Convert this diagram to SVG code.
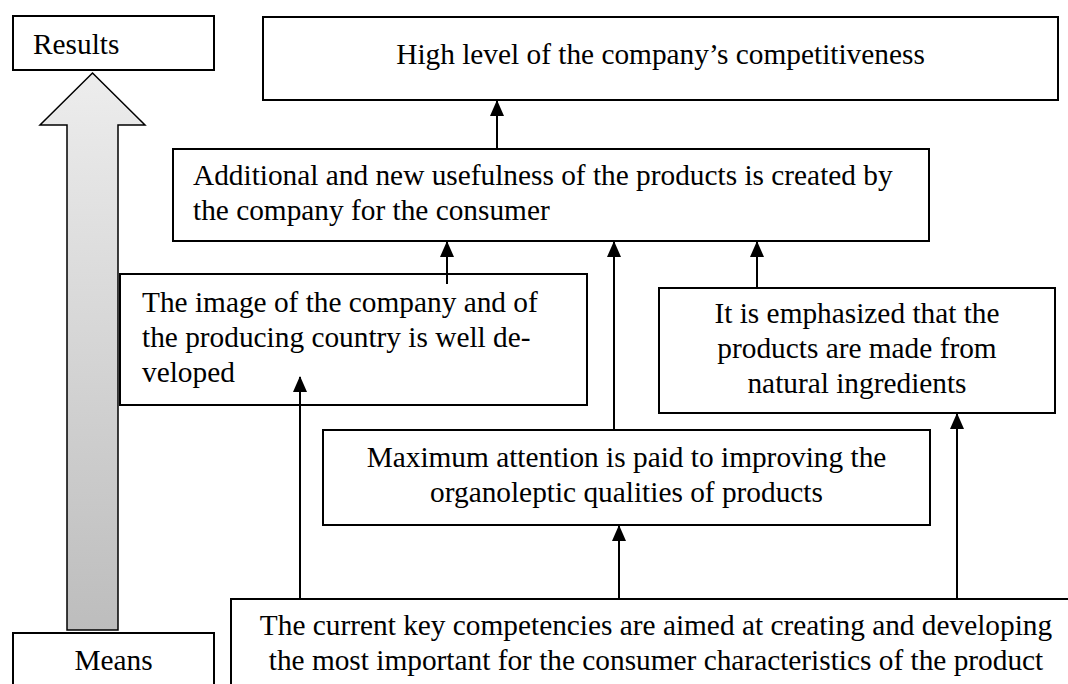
<svg xmlns="http://www.w3.org/2000/svg" width="1068" height="684" viewBox="0 0 1068 684">
<defs>
<linearGradient id="g" x1="0" y1="0" x2="0" y2="1">
<stop offset="0" stop-color="#ededed"/>
<stop offset="1" stop-color="#bdbdbd"/>
</linearGradient>
<marker id="ah" viewBox="0 0 16 14" refX="15" refY="7" markerWidth="16" markerHeight="14" markerUnits="userSpaceOnUse" orient="auto">
<path d="M0,0 L16,7 L0,14 z" fill="#000"/>
</marker>
<style>
.box{fill:#fff;stroke:#000;stroke-width:2}
.t{font-family:"Liberation Serif","Times New Roman",serif;font-size:29.33px;fill:#000}
.c{text-anchor:middle}
.ln{stroke:#000;stroke-width:2;fill:none;marker-end:url(#ah)}
</style>
</defs>
<rect width="1068" height="684" fill="#fff"/>
<g id="bigarrow">
<path d="M92.5,73 L145,125 L118,125 L118,630 L67,630 L67,125 L40,125 Z" fill="url(#g)" stroke="#000" stroke-width="1.5"/>
</g>
<g id="results">
<rect class="box" x="13" y="16" width="201" height="54"/>
<text class="t" x="33" y="54">Results</text>
</g>
<g id="means">
<rect class="box" x="13" y="633" width="201" height="70"/>
<text class="t c" x="113.5" y="670">Means</text>
</g>
<g id="top">
<rect class="box" x="263" y="17" width="795" height="83"/>
<text class="t c" x="660.5" y="64">High level of the company’s competitiveness</text>
</g>
<g id="usefulness">
<rect class="box" x="173" y="149" width="756" height="92"/>
<text class="t" x="193" y="185">Additional and new usefulness of the products is created by</text>
<text class="t" x="193" y="220">the company for the consumer</text>
</g>
<g id="image">
<rect class="box" x="120" y="274" width="467" height="131"/>
<text class="t" x="142" y="312">The image of the company and of</text>
<text class="t" x="142" y="347">the producing country is well de-</text>
<text class="t" x="142" y="382">veloped</text>
</g>
<g id="natural">
<rect class="box" x="659" y="288" width="396" height="125"/>
<text class="t c" x="857" y="323">It is emphasized that the</text>
<text class="t c" x="857" y="358">products are made from</text>
<text class="t c" x="857" y="393">natural ingredients</text>
</g>
<g id="organoleptic">
<rect class="box" x="323" y="430" width="607" height="95"/>
<text class="t c" x="626.5" y="467">Maximum attention is paid to improving the</text>
<text class="t c" x="626.5" y="502">organoleptic qualities of products</text>
</g>
<g id="competencies">
<rect class="box" x="231" y="599" width="860" height="110"/>
<text class="t c" x="656" y="635">The current key competencies are aimed at creating and developing</text>
<text class="t c" x="656" y="670">the most important for the consumer characteristics of the product</text>
</g>
<g id="connectors">
<line class="ln" x1="497" y1="149" x2="497" y2="101"/>
<line class="ln" x1="447" y1="284" x2="447" y2="242"/>
<line class="ln" x1="614" y1="430" x2="614" y2="242"/>
<line class="ln" x1="757" y1="288" x2="757" y2="242"/>
<line class="ln" x1="300" y1="599" x2="300" y2="377"/>
<line class="ln" x1="619" y1="599" x2="619" y2="526"/>
<line class="ln" x1="957" y1="599" x2="957" y2="414"/>
</g>
</svg>
